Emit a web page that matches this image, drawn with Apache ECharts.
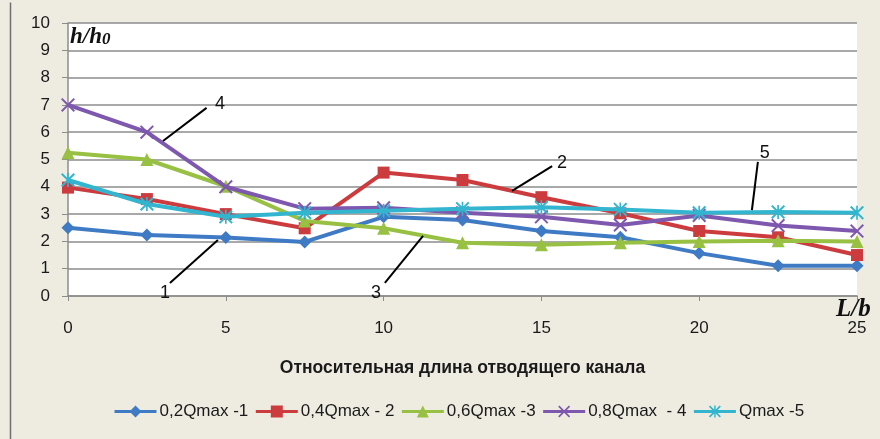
<!DOCTYPE html>
<html><head><meta charset="utf-8">
<script src="https://cdn.jsdelivr.net/npm/echarts@6/dist/echarts.min.js"></script>
<style>html,body{margin:0;padding:0;background:#EEECE1}#c{width:880px;height:439px}</style>
</head><body><div id="c"></div>
<script>
const xValues = [0, 2.5, 5, 7.5, 10, 12.5, 15, 17.5, 20, 22.5, 25];
const s1 = [2.5, 2.23, 2.14, 1.98, 2.9, 2.78, 2.38, 2.15, 1.57, 1.11, 1.11];
const s2 = [3.97, 3.55, 3.0, 2.48, 4.52, 4.25, 3.62, 3.03, 2.38, 2.15, 1.5];
const s3 = [5.25, 5.0, 4.02, 2.75, 2.48, 1.95, 1.88, 1.95, 2.0, 2.02, 2.0];
const s4 = [7.0, 6.0, 4.0, 3.2, 3.23, 3.05, 2.9, 2.6, 2.95, 2.58, 2.38];
const s5 = [4.25, 3.37, 2.9, 3.05, 3.12, 3.2, 3.25, 3.17, 3.05, 3.08, 3.05];
const seriesNames = ['0,2Qmax -1', '0,4Qmax - 2', '0,6Qmax -3', '0,8Qmax  - 4', 'Qmax -5'];
const xTicks = [0, 5, 10, 15, 20, 25];
const yTicks = [0, 1, 2, 3, 4, 5, 6, 7, 8, 9, 10];
const xTitle = 'Относительная длина отводящего канала';
// annotation leaders in data units: [label, labelX, labelY, fromX, fromY, toX, toY]
const annotations = [
  ['4', 4.82, 7.03, 4.39, 6.89, 3.01, 5.68],
  ['1', 3.07, 0.11, 3.23, 0.48, 4.75, 2.05],
  ['3', 9.76, 0.11, 10.04, 0.48, 11.25, 2.2],
  ['2', 15.65, 4.87, 15.34, 4.76, 14.07, 3.85],
  ['5', 22.08, 5.24, 21.86, 4.91, 21.67, 3.15]
];

const colors = ['#3F7AC4', '#CC3B3E', '#98C144', '#7E58AE', '#33B5CF'];
const xSym = 'path://M1,0 L5,4 L9,0 L10,1 L6,5 L10,9 L9,10 L5,6 L1,10 L0,9 L4,5 L0,1 Z';
const starSym = 'path://M1,0 L5,4 L9,0 L10,1 L6,5 L10,9 L9,10 L5,6 L1,10 L0,9 L4,5 L0,1 Z M4.4,0 L5.6,0 L5.6,10 L4.4,10 Z';
const symbols = ['diamond', 'rect', 'triangle', xSym, starSym];
const symSizes = [13, 12, 13, 14, 14];
const allData = [s1, s2, s3, s4, s5];
const font = '"Liberation Sans", Arial, sans-serif';

const chart = echarts.init(document.getElementById('c'));
chart.setOption({
  backgroundColor: '#EEECE1',
  animation: false,
  grid: { left: 68, right: 23, top: 23, bottom: 143, show: true, backgroundColor: '#FFFFFF', borderWidth: 0 },
  legend: {
    top: 398, left: 108, itemWidth: 42, itemHeight: 15, itemGap: 6,
    lineStyle: { width: 3 },
    textStyle: { fontFamily: font, fontSize: 17, color: '#1a1a1a', padding: [0, 0, 0, -2] },
    data: seriesNames
  },
  xAxis: {
    type: 'value', min: xTicks[0], max: xTicks[xTicks.length - 1], interval: 5,
    axisLine: { lineStyle: { color: '#8C8C8C', width: 1.5 } },
    axisTick: { show: true, length: 5, lineStyle: { color: '#8C8C8C' } },
    splitLine: { show: false },
    axisLabel: { fontFamily: font, fontSize: 17, color: '#1a1a1a', margin: 24 },
    name: xTitle, nameLocation: 'middle', nameGap: 63,
    nameTextStyle: { fontFamily: font, fontSize: 17.5, fontWeight: 'bold', color: '#1a1a1a' }
  },
  yAxis: {
    type: 'value', min: yTicks[0], max: yTicks[yTicks.length - 1], interval: 1,
    axisLine: { show: true, lineStyle: { color: '#8C8C8C', width: 1.5 } },
    axisTick: { show: true, length: 6, lineStyle: { color: '#8C8C8C' } },
    splitLine: { lineStyle: { color: '#8C8C8C', width: 1.5 } },
    axisLabel: { fontFamily: font, fontSize: 17, color: '#1a1a1a', margin: 18 }
  },
  series: allData.map((d, i) => ({
    name: seriesNames[i], type: 'line',
    data: d.map((v, j) => [xValues[j], v]),
    symbol: symbols[i], symbolSize: symSizes[i], showAllSymbol: true,
    lineStyle: { color: colors[i], width: 4 },
    itemStyle: { color: colors[i] },
    z: 2 + i
  })),
  graphic: [
    { type: 'line', left: 8, top: 0, shape: { x1: 0, y1: 0, x2: 0, y2: 439 }, style: { stroke: '#6f6f6f', lineWidth: 1.5 } },
    { type: 'text', left: 70, top: 26, style: { rich: { a: { fontFamily: '"Liberation Serif", serif', fontSize: 23, fontWeight: 'bold', fontStyle: 'italic' }, b: { fontFamily: '"Liberation Serif", serif', fontSize: 17, fontWeight: 'bold', fontStyle: 'italic', padding: [5, 0, 0, 0] } }, text: '{a|h/h}{b|0}', fill: '#111' } },
    { type: 'text', left: 836, top: 297, style: { text: 'L/b', fontFamily: '"Liberation Serif", serif', fontSize: 25, fontWeight: 'bold', fontStyle: 'italic', fill: '#111' } }
  ]
});

const extra = [];
annotations.forEach(a => {
  const p = chart.convertToPixel({ gridIndex: 0 }, [a[1], a[2]]);
  const f = chart.convertToPixel({ gridIndex: 0 }, [a[3], a[4]]);
  const t = chart.convertToPixel({ gridIndex: 0 }, [a[5], a[6]]);
  extra.push({ type: 'line', z: 100, shape: { x1: f[0], y1: f[1], x2: t[0], y2: t[1] }, style: { stroke: '#000', lineWidth: 2 } });
  extra.push({ type: 'text', z: 100, x: p[0], y: p[1], style: { text: a[0], fontFamily: font, fontSize: 18, fill: '#111', align: 'center', verticalAlign: 'middle' } });
});
chart.setOption({ graphic: chart.getOption().graphic[0].elements.concat(extra) });
</script></body></html>
